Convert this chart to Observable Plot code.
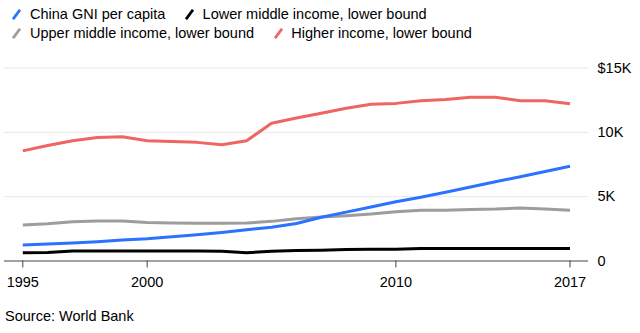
<!DOCTYPE html>
<html>
<head>
<meta charset="utf-8">
<script src="https://cdn.jsdelivr.net/npm/d3@7"></script>
<script src="https://cdn.jsdelivr.net/npm/@observablehq/plot@0.6"></script>
<style>
  html, body { margin: 0; padding: 0; background: #fff; }
  body { width: 640px; height: 333px; position: relative; overflow: hidden;
         font-family: "Liberation Sans", Arial, sans-serif; font-size: 14.5px; color: #000; }
  #legend { position: absolute; left: 12.3px; top: 5px; }
  .row { display: flex; height: 19px; line-height: 19px; white-space: nowrap; }
  .item { display: flex; align-items: center; margin-right: 19.5px; }
  .item svg { margin-right: 8.7px; }
  #chart { position: absolute; left: 0; top: 48px; }
  #caption { position: absolute; left: 5px; top: 306.5px; line-height: 19px; }
</style>
</head>
<body>
<div id="legend"></div>
<div id="chart"></div>
<div id="caption">Source: World Bank</div>
<script>
// ---- data ----
const years = [1995,1996,1997,1998,1999,2000,2001,2002,2003,2004,2005,2006,2007,2008,2009,2010,2011,2012,2013,2014,2015,2016,2017];
const china = [1240,1320,1400,1500,1630,1730,1880,2040,2220,2430,2620,2920,3400,3800,4200,4600,4960,5350,5750,6160,6550,6960,7360];
const lowerMiddle = [650,660,780,780,780,780,780,780,750,650,750,820,840,900,920,920,980,980,980,980,980,980,980];
const upperMiddle = [2800,2900,3050,3110,3110,3000,2950,2940,2940,2950,3080,3290,3420,3520,3650,3830,3940,3940,4010,4040,4120,4040,3940];
const higher = [8560,8970,9350,9590,9660,9350,9280,9220,9040,9350,10700,11120,11480,11870,12180,12250,12460,12560,12720,12720,12460,12460,12230];
const seriesNames = ["China GNI per capita","Lower middle income, lower bound","Upper middle income, lower bound","Higher income, lower bound"];
const seriesColors = ["#2a72ff","#000000","#9d9d9d","#ef6561"];
const xTicks = [1995,2000,2010,2017];
const yTicks = [0,5000,10000,15000];
const yTickLabels = ["0","5K","10K","$15K"];

const seriesValues = [china, lowerMiddle, upperMiddle, higher];
const data = seriesNames.flatMap((name, i) => years.map((year, j) => ({series: name, year, value: seriesValues[i][j]})));

// ---- legend ----
const legend = document.getElementById("legend");
const rows = [[0,1],[2,3]];
for (const r of rows) {
  const row = document.createElement("div");
  row.className = "row";
  for (const i of r) {
    const item = document.createElement("div");
    item.className = "item";
    item.innerHTML = `<svg width="9" height="11" viewBox="0 0 9 11"><line x1="1" y1="10.2" x2="8" y2="0.8" stroke="${seriesColors[i]}" stroke-width="2.8"/></svg><span>${seriesNames[i]}</span>`;
    row.appendChild(item);
  }
  legend.appendChild(row);
}

// ---- chart ----
const drawOrder = [1,2,3,0];
const chart = Plot.plot({
  width: 640,
  height: 250,
  marginLeft: 4,
  marginRight: 52,
  marginTop: 19.5,
  marginBottom: 37.5,
  style: {fontFamily: "'Liberation Sans', Arial, sans-serif", fontSize: "14.5px", color: "#000", background: "transparent"},
  x: {domain: [1995, 2017], insetLeft: 18.3, insetRight: 18.5},
  y: {domain: [0, 15000]},
  color: {domain: seriesNames, range: seriesColors},
  marks: [
    Plot.ruleY(yTicks.filter(d => d > 0), {stroke: "#e6e6e6", strokeWidth: 1}),
    Plot.ruleY([0], {stroke: "#444", strokeWidth: 1}),
    Plot.axisX({ticks: xTicks, tickSize: 7, tickPadding: 9, stroke: "#444", tickFormat: d => String(d), label: null}),
    Plot.axisY({anchor: "right", ticks: yTicks, tickSize: 0, tickPadding: 9, tickFormat: d => yTickLabels[yTicks.indexOf(d)], label: null}),
    ...drawOrder.map(i => Plot.line(data.filter(d => d.series === seriesNames[i]), {
      x: "year", y: "value", stroke: "series", strokeWidth: 3, strokeLinejoin: "round", strokeLinecap: "butt"
    }))
  ]
});
document.getElementById("chart").appendChild(chart);
</script>
</body>
</html>
